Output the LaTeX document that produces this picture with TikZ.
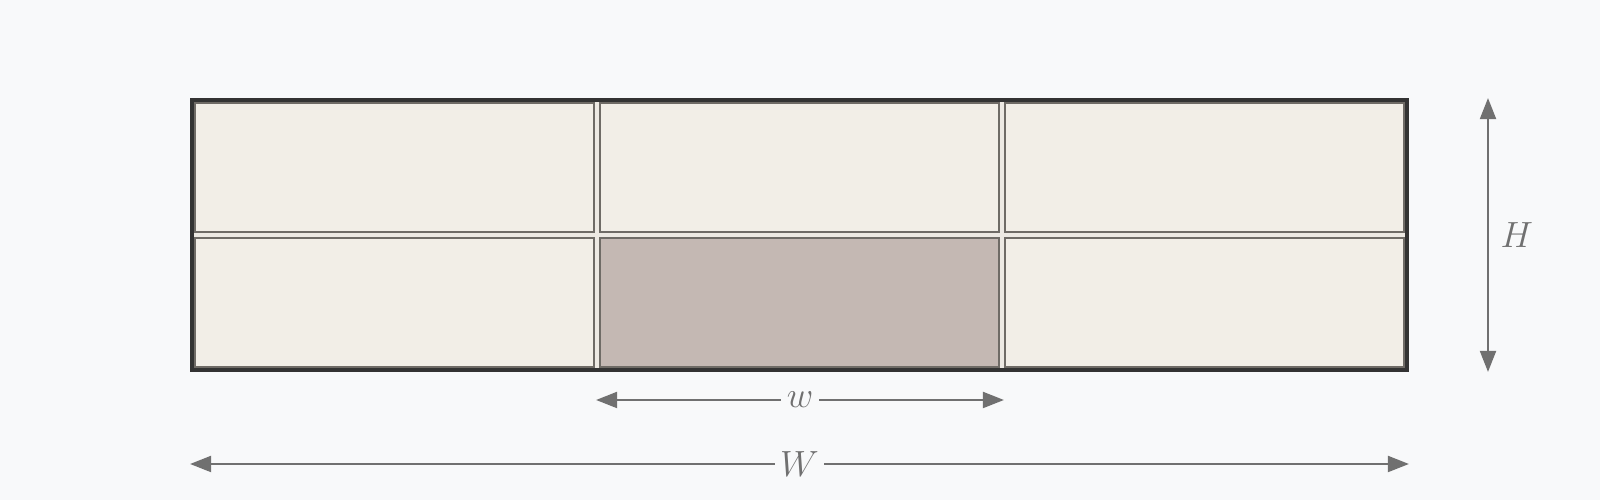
\documentclass[tikz,border=0pt]{standalone}
\usetikzlibrary{arrows.meta,calc}
\definecolor{pagebg}{HTML}{F8F9FA}
\definecolor{gapbg}{HTML}{EDE9E3}
\definecolor{cellfill}{HTML}{F2EEE7}
\definecolor{cellline}{HTML}{6F6B66}
\definecolor{pickfill}{HTML}{C4B8B3}
\definecolor{frameline}{HTML}{333333}
\definecolor{dimline}{HTML}{707070}
\begin{document}
\begin{tikzpicture}[
  cell/.style={rectangle,draw=cellline,fill=cellfill,line width=1.4pt,
    minimum width=7.98cm,minimum height=2.58cm,inner sep=0pt},
  picked/.style={cell,fill=pickfill},
  dim/.style={draw=dimline,line width=1.5pt,
    {Triangle[length=12pt,width=9pt]}-{Triangle[length=12pt,width=9pt]}},
  dimlabel/.style={fill=pagebg,text=dimline,inner sep=3pt,font=\fontsize{22}{26}\selectfont}]

  \fill[pagebg] (0,0) rectangle (32,10);
  \useasboundingbox (0,0) rectangle (32,10);

  % frame
  \draw[frameline,fill=gapbg,line width=2.8pt] (3.84,2.6) rectangle (28.14,8.0);

  \node[cell] (a1) at (7.89,6.65) {};
  \node[cell] (a2) at (15.99,6.65) {};
  \node[cell] (a3) at (24.09,6.65) {};

  \node[cell] (b1) at (7.89,3.95) {};
  \node[picked] (b2) at (15.99,3.95) {};
  \node[cell] (b3) at (24.09,3.95) {};

  % dimensions
  \coordinate (wl) at (11.92,2.0);
  \coordinate (wr) at (20.08,2.0);
  \coordinate (Wl) at (3.8,0.72);
  \coordinate (Wr) at (28.18,0.72);
  \coordinate (Ht) at (29.76,8.04);
  \coordinate (Hb) at (29.76,2.56);

  \draw[dim] (wl) -- (wr);
  \draw[dim] (Wl) -- (Wr);
  \draw[dim] (Ht) -- (Hb);

  \node[dimlabel] (w) at ($(wl)!0.5!(wr)$) {$w$};
  \node[dimlabel] (W) at ($(Wl)!0.5!(Wr)$) {$W$};
  \node[dimlabel,fill=none,right=4pt] (H) at ($(Ht)!0.5!(Hb)$) {$H$};
\end{tikzpicture}
\end{document}
